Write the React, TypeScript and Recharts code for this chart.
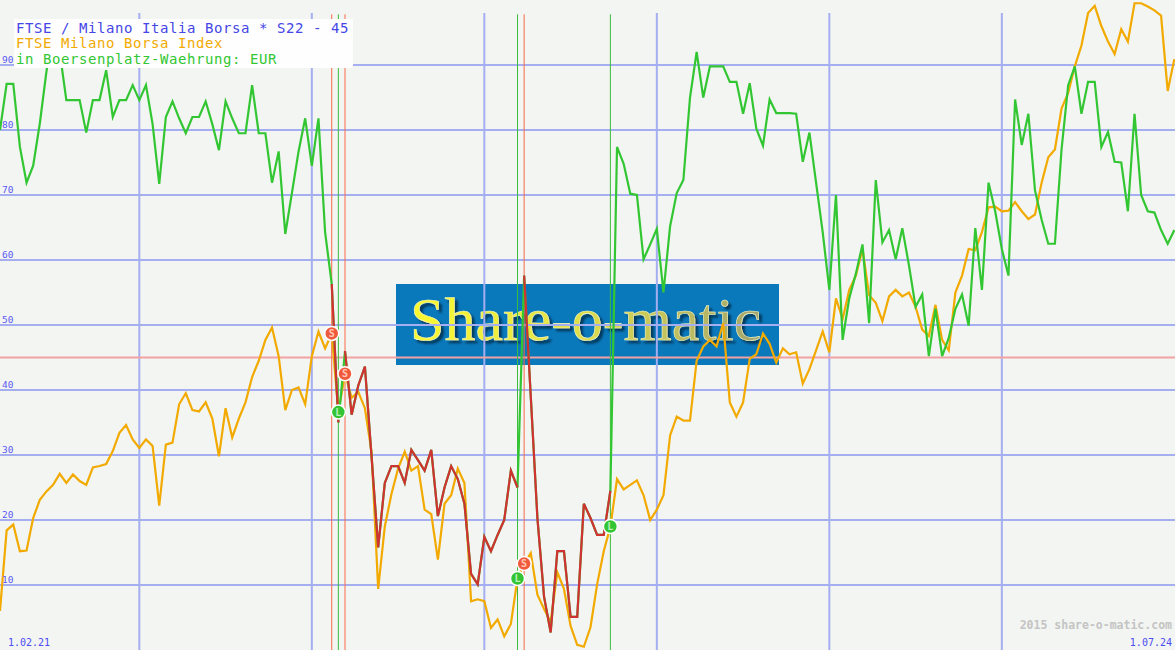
import { ComposedChart, Line, XAxis, YAxis, ReferenceLine, Scatter } from 'recharts';

document.body.style.margin = '0';

// week index: 0 = 1.02.21, one point per week from week 1 to week 178
const priceValues = [
  6, 18.4, 19.3, 15.2, 15.3, 20.3, 23.1, 24.4, 25.4, 27.1,
  25.7, 27, 26, 25.4, 28.1, 28.3, 28.6, 30.6, 33.4, 34.6,
  32.4, 31.1, 32.4, 31.4, 22.2, 31.6, 31.9, 37.8, 39.5, 36.9,
  36.7, 38.1, 35.6, 29.8, 37.2, 32.7, 35.6, 38.1, 42, 44.5,
  47.7, 49.6, 45.2, 36.9, 40, 40.4, 37.8, 45.2, 49, 46.4,
  48.7, 36.6, 42.5, 38.8, 39.7, 37.2, 30.5, 9.4, 19, 24,
  27.9, 30.5, 27.6, 28.3, 21.6, 20.9, 13.9, 22.5, 23.8, 27.9,
  25.7, 7.5, 7.8, 7.5, 3.4, 4.7, 2.1, 4, 11, 13.3,
  14.9, 8.5, 6.3, 4.3, 12, 9.4, 3.7, 0.8, 0.5, 3.5,
  10.1, 15.2, 19, 26.3, 24.7, 25.4, 26.1, 23.8, 20, 21.6,
  23.8, 33, 35.9, 35.3, 35.3, 44.5, 46.7, 47.7, 46.7, 50.3,
  38.1, 35.9, 38.1, 44.8, 45.5, 48.7, 47.1, 44.2, 46.4, 45.5,
  45.8, 41, 43.2, 46.1, 49, 45.8, 54.1, 50.9, 55.4, 57.6,
  61.7, 54.6, 53.4, 50.6, 54.4, 55.4, 54.4, 55, 52.8, 49.3,
  48.3, 53.1, 47.7, 46.1, 55, 57.6, 61.7, 61.5, 64.3, 68.1,
  68.2, 67.5, 67.6, 68.9, 67.5, 66.3, 67, 71.9, 75.8, 77,
  83.3, 85.7, 89.8, 93, 98, 99.1, 96, 93.6, 91.7, 95.5,
  93.6, 99.5, 99.5, 99, 98.4, 97.6, 86, 90.9,
];

const indicatorValues = [
  80, 87.1, 87.1, 77.4, 71.9, 74.5, 81, 89, 95, 92,
  84.6, 84.6, 84.6, 79.6, 84.6, 84.6, 89.2, 82, 84.6, 84.6,
  86.9, 84.6, 86.9, 80.9, 71.7, 82, 84.4, 81.8, 79.5, 82,
  82, 84.4, 80.9, 76.9, 84.4, 81.8, 79.5, 79.5, 86.9, 79.5,
  79.5, 71.9, 76.7, 64, 70.3, 76.7, 81.8, 74.5, 81.8, 64.3,
  56.3, 35, 46, 36.2, 40.7, 43.6, 29.8, 15.8, 25.7, 28.3,
  28.3, 25.7, 30.8, 29.2, 27.6, 30.8, 20.6, 25, 28.3, 26.3,
  22.5, 11.7, 10.1, 17.4, 15.2, 17.7, 20, 27.6, 25, 57.6,
  39, 20.3, 8.2, 2.7, 15.2, 15.2, 5.1, 5.1, 22.5, 20.3,
  17.7, 17.7, 24.5, 77.4, 74.8, 70.2, 70, 60.1, 62.4, 64.8,
  55, 65.2, 70.3, 72.3, 85, 92, 85, 89.8, 89.8, 89.8,
  87.4, 87.4, 82.5, 87.2, 80.2, 77.6, 84.7, 82.6, 82.6, 82.6,
  82.5, 75.1, 79.6, 71.9, 64.3, 55.4, 70, 47.7, 54.1, 57.9,
  62.4, 50.3, 72.3, 62.7, 64.6, 60.1, 64.9, 59.2, 52.8, 54.7,
  45.2, 52.5, 45.2, 48, 52.5, 54.7, 49.9, 64.9, 55.4, 71.9,
  67.5, 61.7, 57.6, 84.7, 77.7, 82.5, 70.7, 66.2, 62.5, 62.5,
  77, 86.9, 89.8, 82.5, 87.4, 87.4, 77.4, 79.7, 75.1, 75,
  67.5, 82.5, 70, 67.5, 67.3, 64.6, 62.5, 64.6,
];

const signalWeeks = [51, 52, 53, 79, 80, 93];
const signalTypes = ['S', 'L', 'S', 'L', 'S', 'L'];

const dateTickWeeks = [22, 48, 74, 100, 126, 152];
const dateTickLabels = ['5.07.21', '3.01.22', '4.07.22', '2.01.23', '3.07.23', '1.01.24'];
const valueTicks = [10, 20, 30, 40, 50, 60, 70, 80, 90];
const thresholdValue = 45;
const startLabel = '1.02.21';
const endLabel = '1.07.24';

const titleLines = [
  'FTSE / Milano Italia Borsa * S22 - 45',
  'FTSE Milano Borsa Index',
  'in Boersenplatz-Waehrung: EUR',
];

const W = 1175;
const H = 650;
const MONO = '"DejaVu Sans Mono", "Liberation Mono", monospace';
const GRID = '#a4aef0';
const AXIS_TEXT = '#5a5af2';

// short periods run from an S signal to the following L signal
const shortRanges: [number, number][] = [];
signalTypes.forEach((t, i) => {
  if (t === 'S' && signalWeeks[i + 1] !== undefined) shortRanges.push([signalWeeks[i], signalWeeks[i + 1]]);
});

const data = priceValues.map((p, i) => {
  const week = i + 1;
  const row: any = { week, price: p, indicator: indicatorValues[i] };
  shortRanges.forEach(([a, b], k) => {
    row['short' + k] = week >= a && week <= b ? indicatorValues[i] : null;
  });
  return row;
});

const signalData = signalWeeks.map((w, i) => ({ week: w, price: priceValues[w - 1], type: signalTypes[i] }));

function DateTick(props: any) {
  const { x, payload } = props;
  const i = dateTickWeeks.indexOf(payload.value);
  return (
    <text x={x} y={11} textAnchor="middle" fontFamily={MONO} fontSize={10} fill={AXIS_TEXT}>
      {dateTickLabels[i]}
    </text>
  );
}

function SignalDot(props: any) {
  const { cx, cy, payload } = props;
  const isShort = payload.type === 'S';
  return (
    <g>
      <circle cx={cx} cy={cy} r={7} fill={isShort ? '#f05a3c' : '#33c433'} stroke="#ffffff" strokeWidth={1.5} />
      <text x={cx} y={cy + 3.5} textAnchor="middle" fontFamily={MONO} fontSize={10} fontWeight="bold" fill={isShort ? '#ffc8b8' : '#b8f0b8'}>
        {payload.type}
      </text>
    </g>
  );
}

export default function App() {
  return (
    <div style={{ position: 'relative', width: W, height: H, background: '#f3f5f2', overflow: 'hidden' }}>
      <svg width={W} height={H} style={{ position: 'absolute', left: 0, top: 0 }}>
        <defs>
          <linearGradient id="logoFill" x1="0" x2="1" y1="0" y2="0">
            <stop offset="0" stopColor="#fafa30" />
            <stop offset="0.45" stopColor="#e2e24a" />
            <stop offset="1" stopColor="#a4a470" />
          </linearGradient>
          <filter id="logoShadow" x="-5%" y="-20%" width="110%" height="140%">
            <feDropShadow dx="3" dy="3" stdDeviation="1.2" floodColor="#022c46" floodOpacity="0.8" />
          </filter>
        </defs>
        <rect x={396} y={284} width={383} height={81} fill="#0a79bc" />
        <text
          x={410}
          y={340}
          fontFamily='"Liberation Serif", serif'
          fontSize={62}
          fill="url(#logoFill)"
          stroke="#f6f6c0"
          strokeWidth={0.6}
          filter="url(#logoShadow)"
        >
          Share-o-matic
        </text>
      </svg>

      <div style={{ position: 'absolute', left: 0, top: 0 }}>
        <ComposedChart width={W} height={H} data={data} margin={{ top: 0, right: 0, bottom: 0, left: 0 }}>
          <XAxis
            dataKey="week"
            type="number"
            orientation="top"
            height={0}
            domain={[1, 178.1]}
            ticks={dateTickWeeks}
            tick={<DateTick />}
            axisLine={false}
            tickLine={false}
            interval={0}
          />
          <YAxis type="number" hide domain={[0, 100]} />
          {valueTicks.map((v) => (
            <ReferenceLine
              key={'h' + v}
              y={v}
              stroke={GRID}
              strokeWidth={2}
              label={{ value: String(v), position: 'insideBottomLeft', offset: 2, fill: AXIS_TEXT, fontSize: 9.5, fontFamily: MONO }}
            />
          ))}
          {dateTickWeeks.map((w) => (
            <ReferenceLine key={'g' + w} segment={[{ x: w, y: 98 }, { x: w, y: 0 }]} stroke={GRID} strokeWidth={2} />
          ))}
          <ReferenceLine y={thresholdValue} stroke="#f2a2a2" strokeWidth={2} />
          {signalWeeks.map((w, i) => (
            <ReferenceLine
              key={'s' + i}
              segment={[{ x: w, y: 97.8 }, { x: w, y: 0 }]}
              stroke={signalTypes[i] === 'S' ? '#f86a48' : '#3cbc3c'}
              strokeWidth={1}
            />
          ))}
          <Line dataKey="price" stroke="#f2aa00" strokeWidth={2.2} dot={false} activeDot={false} isAnimationActive={false} />
          <Line dataKey="indicator" stroke="#33c633" strokeWidth={2.2} dot={false} activeDot={false} isAnimationActive={false} />
          {shortRanges.map((_, k) => (
            <Line
              key={'short' + k}
              dataKey={'short' + k}
              stroke="#d03232"
              strokeWidth={2.2}
              dot={false}
              activeDot={false}
              connectNulls={false}
              isAnimationActive={false}
            />
          ))}
          <Scatter data={signalData} dataKey="price" shape={<SignalDot />} isAnimationActive={false} />
        </ComposedChart>
      </div>

      <svg width={W} height={H} style={{ position: 'absolute', left: 0, top: 0, pointerEvents: 'none' }}>
        <rect x={14} y={19} width={339} height={49} fill="#fdfefd" />
        {titleLines.map((t, i) => (
          <text
            key={t}
            x={16}
            y={32.5 + i * 15.8}
            fontFamily={MONO}
            fontSize={14}
            letterSpacing={0.57}
            fill={['#4646e6', '#f2aa00', '#33c633'][i]}
          >
            {t}
          </text>
        ))}
        <text x={8} y={646} fontFamily={MONO} fontSize={10} fill="#4c4cf2">
          {startLabel}
        </text>
        <text x={1172} y={646} textAnchor="end" fontFamily={MONO} fontSize={10} fill="#4c4cf2">
          {endLabel}
        </text>
        <text x={1172} y={629} textAnchor="end" fontFamily={MONO} fontSize={11.5} fontWeight="bold" fill="#c4c4c4">
          2015 share-o-matic.com
        </text>
      </svg>
    </div>
  );
}
